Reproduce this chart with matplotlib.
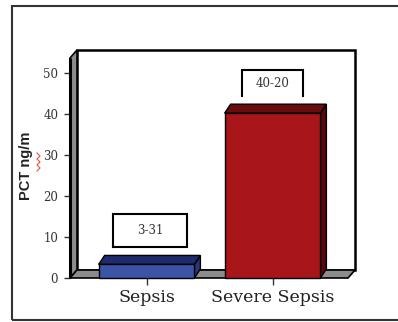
import matplotlib
matplotlib.use("Agg")
import matplotlib.pyplot as plt
from matplotlib.patches import Polygon, Rectangle
from matplotlib.lines import Line2D

# ---- data ----
categories = ["Sepsis", "Severe Sepsis"]
pct_values = [3.31, 40.20]
value_labels = ["3-31", "40-20"]
y_ticks = [0, 10, 20, 30, 40, 50]

# ---- styles ----
front_colors = ["#3b54a6", "#a9161a"]
top_colors = ["#1e2b6c", "#6a0b0d"]
side_colors = ["#24367f", "#5a090b"]
wall_gray = "#8c8c8c"
serif = "DejaVu Serif"

W, H = 398, 322
fig = plt.figure(figsize=(W / 100, H / 100), dpi=100)
fig.patch.set_facecolor("white")

# front plane of the plot area, in pixels
left_px, right_px = 70, 348
base_px, top_px = 278, 58
px_per_unit_y = 4.1
px_per_cat = 126
first_center_px = 146.5

ax = fig.add_axes([left_px / W, 1 - base_px / H,
                   (right_px - left_px) / W, (base_px - top_px) / H])
ymax = (base_px - top_px) / px_per_unit_y
xlo = -(first_center_px - left_px) / px_per_cat
xhi = xlo + (right_px - left_px) / px_per_cat
ax.set_xlim(xlo, xhi)
ax.set_ylim(0, ymax)
ax.patch.set_visible(False)

# depth offsets (walls and bars) in data units
DX, DY = 7 / px_per_cat, 8 / px_per_unit_y
BDX, BDY = 6 / px_per_cat, 9 / px_per_unit_y

def poly(pts, fc, lw=1.0, ec="black", z=1):
    ax.add_patch(Polygon(pts, closed=True, facecolor=fc, edgecolor=ec,
                         linewidth=lw, zorder=z, clip_on=False,
                         joinstyle="miter"))

# back wall
poly([(xlo + DX, DY), (xhi + DX, DY), (xhi + DX, ymax + DY), (xlo + DX, ymax + DY)],
     "white", lw=1.8, z=1)
# left wall
poly([(xlo, 0), (xlo, ymax), (xlo + DX, ymax + DY), (xlo + DX, DY)],
     wall_gray, lw=1.2, z=2)
# floor
poly([(xlo, 0), (xhi, 0), (xhi + DX, DY), (xlo + DX, DY)],
     wall_gray, lw=1.2, z=2)
# thick front-left edge
ax.plot([xlo, xlo], [0, ymax], color="black", lw=2.2, zorder=3,
        clip_on=False, solid_capstyle="butt")

# bars
bar_w = 0.76
for i, v in enumerate(pct_values):
    x0, x1 = i - bar_w / 2, i + bar_w / 2
    poly([(x1, 0), (x1 + BDX, BDY), (x1 + BDX, v + BDY), (x1, v)],
         side_colors[i], lw=1.0, z=4)
    poly([(x0, v), (x1, v), (x1 + BDX, v + BDY), (x0 + BDX, v + BDY)],
         top_colors[i], lw=1.0, z=4)
    poly([(x0, 0), (x1, 0), (x1, v), (x0, v)], front_colors[i], lw=1.0, z=5)

# value label boxes
box_w = [0.59, 0.48]
box_h = [8.0, 6.3]
box_dx = [0.03, 0.0]
box_gap = 4.2
box_open_bottom = [False, True]
for i, v in enumerate(pct_values):
    cx = i + box_dx[i]
    b = v + box_gap
    t = b + box_h[i]
    l, r = cx - box_w[i] / 2, cx + box_w[i] / 2
    ax.add_patch(Rectangle((l, b), r - l, t - b, facecolor="white",
                           edgecolor="none", zorder=6, clip_on=False))
    if box_open_bottom[i]:
        xs, ys = [l, l, r, r], [b, t, t, b]
    else:
        xs, ys = [l, l, r, r, l], [b, t, t, b, b]
    ax.plot(xs, ys, color="black", lw=1.5, zorder=7, clip_on=False,
            solid_joinstyle="miter")
    ax.text(cx, (b + t) / 2, value_labels[i], ha="center", va="center",
            fontsize=8.5, family=serif, color="#333333", zorder=8)

# axes and ticks
for s in ax.spines.values():
    s.set_visible(False)
ax.set_yticks(y_ticks)
ax.set_yticklabels([str(t) for t in y_ticks], family=serif, fontsize=8.5,
                   color="#333333")
ax.tick_params(axis="y", length=4.5, width=1.0, pad=4, color="#333333")
ax.set_xticks(range(len(categories)))
ax.set_xticklabels(categories, family=serif, fontsize=12.5, color="#222222")
ax.tick_params(axis="x", length=5, width=1.0, pad=3, color="#333333")

fig.text(26 / W, 1 - 166 / H, "PCT ng/m", rotation=90, ha="center",
         va="center", fontsize=10.5, fontweight="bold",
         family="Liberation Sans", color="#222222")

# spell-check squiggle beside the axis title
sq_y = [153, 156, 159, 162, 165, 168, 171]
sq_x = [37, 40, 37, 40, 37, 40, 37]
fig.add_artist(Line2D([x / W for x in sq_x], [1 - y / H for y in sq_y],
                      color="#d9534f", lw=0.8))

# outer frame (right edge runs past the canvas)
fig.add_artist(Rectangle((12 / W, 1 - 320 / H), (405 - 12) / W, (320 - 6) / H,
                         fill=False, edgecolor="#333333", linewidth=1.5,
                         transform=fig.transFigure))

fig.savefig("out.png", dpi=100, facecolor="white")
